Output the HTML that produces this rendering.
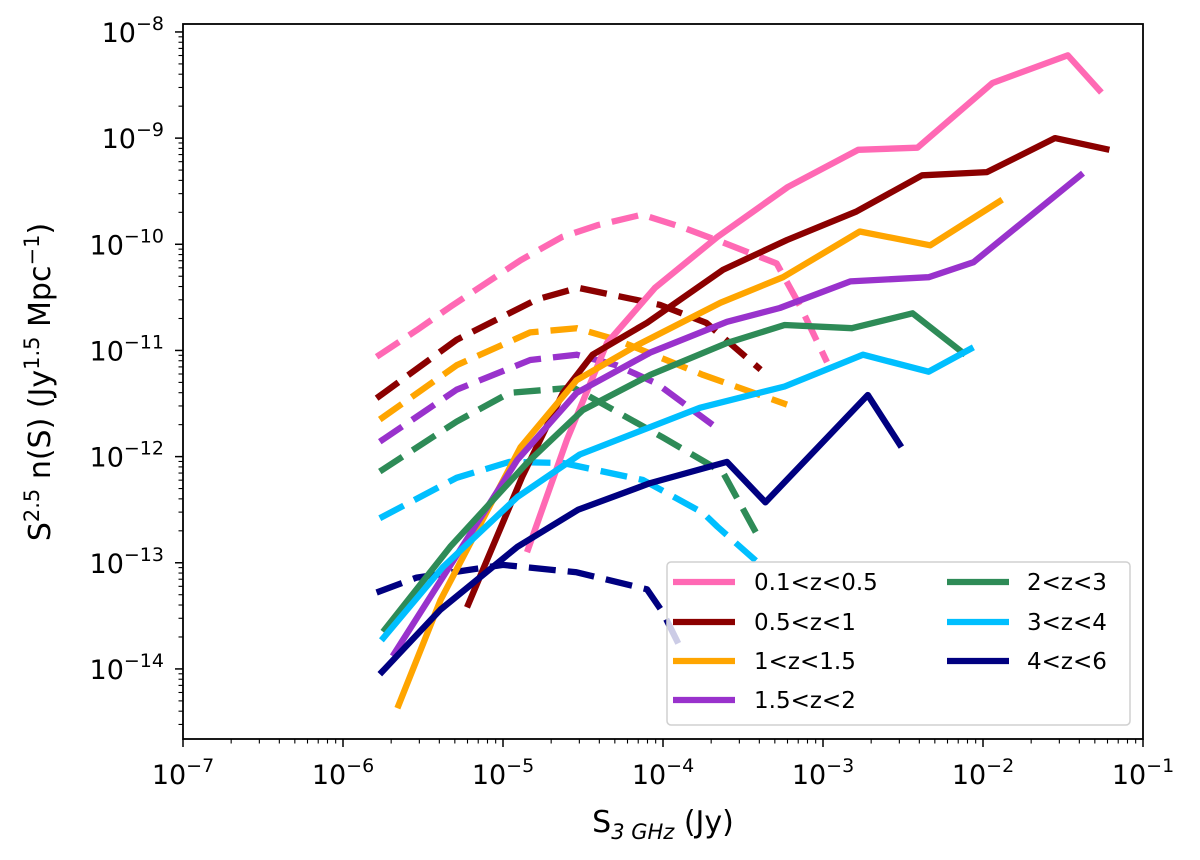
<!DOCTYPE html>
<html><head><meta charset="utf-8">
<style>
html,body{margin:0;padding:0;background:#fff;}
svg{display:block;font-family:"DejaVu Sans","Liberation Sans",sans-serif;}
</style></head>
<body>
<svg id="chart" width="1200" height="860" viewBox="0 0 1200 860"></svg>
<script>
// Data (log10 values)
const xTickExps = [-7,-6,-5,-4,-3,-2,-1];
const yTickExps = [-14,-13,-12,-11,-10,-9,-8];
const seriesNames = ["0.1<z<0.5","0.5<z<1","1<z<1.5","1.5<z<2","2<z<3","3<z<4","4<z<6"];
const seriesColors = ["#ff69b4","#8b0000","#ffa500","#9932cc","#2e8b57","#00bfff","#000080"];
// solid lines (log10 S, log10 S^2.5 n(S))
const pinkSolidX = [-4.85,-4.60,-4.35,-4.05,-3.66,-3.22,-2.78,-2.41,-1.94,-1.47,-1.26];
const pinkSolidY = [-12.90,-11.84,-10.93,-10.41,-9.93,-9.46,-9.11,-9.09,-8.48,-8.22,-8.57];
const redSolidX = [-5.225,-4.88,-4.625,-4.44,-4.10,-3.625,-3.225,-2.79,-2.38,-1.975,-1.55,-1.21];
const redSolidY = [-13.42,-12.19,-11.40,-11.04,-10.74,-10.24,-9.96,-9.69,-9.35,-9.32,-9.00,-9.11];
const orangeSolidX = [-5.66,-5.39,-4.89,-4.54,-4.16,-3.64,-3.25,-2.77,-2.33,-1.88];
const orangeSolidY = [-14.37,-13.35,-11.91,-11.28,-10.95,-10.55,-10.31,-9.88,-10.01,-9.58];
const purpleSolidX = [-5.69,-4.91,-4.54,-4.08,-3.60,-3.27,-2.83,-2.34,-2.06,-1.375];
const purpleSolidY = [-13.88,-12.03,-11.40,-11.02,-10.73,-10.60,-10.35,-10.31,-10.17,-9.33];
const greenSolidX = [-5.75,-5.33,-4.85,-4.50,-4.08,-3.60,-3.24,-2.82,-2.44,-2.11];
const greenSolidY = [-13.65,-12.85,-12.06,-11.56,-11.23,-10.93,-10.76,-10.79,-10.65,-11.04];
const cyanSolidX = [-5.76,-5.375,-4.91,-4.52,-3.77,-3.24,-2.75,-2.34,-2.06];
const cyanSolidY = [-13.73,-13.04,-12.38,-11.98,-11.54,-11.34,-11.04,-11.20,-10.97];
const navySolidX = [-5.77,-5.39,-4.91,-4.53,-4.08,-3.60,-3.36,-2.72,-2.51];
const navySolidY = [-14.05,-13.44,-12.85,-12.50,-12.25,-12.05,-12.43,-11.42,-11.91];
// dashed lines
const pinkDashX = [-5.79,-5.54,-5.33,-5.10,-4.89,-4.63,-4.41,-4.13,-3.88,-3.63,-3.29,-3.14,-2.975];
const pinkDashY = [-11.06,-10.81,-10.59,-10.36,-10.15,-9.93,-9.82,-9.72,-9.84,-9.98,-10.18,-10.59,-11.11];
const redDashX = [-5.79,-5.29,-4.79,-4.53,-4.02,-3.73,-3.39];
const redDashY = [-11.45,-10.90,-10.52,-10.41,-10.57,-10.74,-11.18];
const orangeDashX = [-5.77,-5.29,-4.83,-4.54,-4.29,-3.75,-3.225];
const orangeDashY = [-11.65,-11.14,-10.83,-10.79,-10.90,-11.23,-11.51];
const purpleDashX = [-5.77,-5.29,-4.83,-4.54,-4.29,-4.04,-3.69];
const purpleDashY = [-11.86,-11.37,-11.09,-11.04,-11.14,-11.31,-11.70];
const greenDashX = [-5.77,-5.29,-4.96,-4.56,-4.00,-3.625,-3.41];
const greenDashY = [-12.14,-11.67,-11.40,-11.35,-11.82,-12.15,-12.74];
const cyanDashX = [-5.77,-5.29,-4.96,-4.625,-4.125,-3.75,-3.66,-3.39];
const cyanDashY = [-12.58,-12.20,-12.05,-12.06,-12.22,-12.53,-12.66,-13.02];
const navyDashX = [-5.79,-5.54,-5.00,-4.54,-4.10,-4.00,-3.875];
const navyDashY = [-13.28,-13.14,-13.02,-13.09,-13.25,-13.47,-13.85];

const NS = "http://www.w3.org/2000/svg";
const svg = document.getElementById('chart');
const L = 183, R = 1143, T = 24, B = 739;
const xMin = -7, xMax = -1, yTop = -7.925, yBot = -14.66;
function xs(v){ return L + (v - xMin) / (xMax - xMin) * (R - L); }
function ys(v){ return T + (yTop - v) / (yTop - yBot) * (B - T); }
function mk(tag, attrs){ const e = document.createElementNS(NS, tag); for (const k in attrs) e.setAttribute(k, attrs[k]); svg.appendChild(e); return e; }

const solids = [[pinkSolidX,pinkSolidY],[redSolidX,redSolidY],[orangeSolidX,orangeSolidY],[purpleSolidX,purpleSolidY],[greenSolidX,greenSolidY],[cyanSolidX,cyanSolidY],[navySolidX,navySolidY]];
const dashes = [[pinkDashX,pinkDashY],[redDashX,redDashY],[orangeDashX,orangeDashY],[purpleDashX,purpleDashY],[greenDashX,greenDashY],[cyanDashX,cyanDashY],[navyDashX,navyDashY]];
function drawLine(d, color, dashed, name){
  const pts = d[0].map((x,i) => xs(x).toFixed(1) + ',' + ys(d[1][i]).toFixed(1)).join(' ');
  const p = mk('polyline', {points: pts, fill: 'none', stroke: color, 'stroke-width': 6.3, 'stroke-linejoin': 'round'});
  if (dashed) p.setAttribute('stroke-dasharray', '27 12');
  
  
}
for (let i = 0; i < 7; i++) drawLine(dashes[i], seriesColors[i], true, 'dashed-line-' + i);
for (let i = 0; i < 7; i++) drawLine(solids[i], seriesColors[i], false, 'solid-line-' + i);

const frame = mk('rect', {x: L, y: T, width: R - L, height: B - T, fill: 'none', stroke: '#000', 'stroke-width': 1.8});



for (let e = -7; e <= -1; e++) {
  const t = mk('line', {x1: xs(e), x2: xs(e), y1: B, y2: B + 8, stroke: '#000', 'stroke-width': 1.5});
  
  
  if (e < -1) for (let m = 2; m <= 9; m++) {
    const v = e + Math.log10(m);
    const mt = mk('line', {x1: xs(v), x2: xs(v), y1: B, y2: B + 4.5, stroke: '#000', 'stroke-width': 1.1});
    
    
  }
}
xTickExps.forEach(e => {
  const tx = mk('text', {x: xs(e), y: 784, 'text-anchor': 'middle', 'font-size': 27, fill: '#000'});
  tx.innerHTML = '10<tspan dy="-12" font-size="19">−' + (-e) + '</tspan>';
  
  
});
for (let e = -15; e <= -8; e++) {
  if (e >= -14) {
    const t = mk('line', {x1: L - 8, x2: L, y1: ys(e), y2: ys(e), stroke: '#000', 'stroke-width': 1.5});
    
    
  }
  for (let m = 2; m <= 9; m++) {
    const v = e + Math.log10(m);
    if (v < yBot || v > yTop) continue;
    const mt = mk('line', {x1: L - 4.5, x2: L, y1: ys(v), y2: ys(v), stroke: '#000', 'stroke-width': 1.1});
    
    
  }
}
yTickExps.forEach(e => {
  const tx = mk('text', {x: 164, y: ys(e) + 10, 'text-anchor': 'end', 'font-size': 27, fill: '#000'});
  tx.innerHTML = '10<tspan dy="-12" font-size="19">−' + (-e) + '</tspan>';
  
  
});

const xt = mk('text', {x: 663, y: 832, 'text-anchor': 'middle', 'font-size': 30, fill: '#000'});
xt.innerHTML = 'S<tspan dy="7" font-size="21" font-style="italic">3 GHz</tspan><tspan dy="-7"> (Jy)</tspan>';


const yt = mk('text', {x: 0, y: 0, 'text-anchor': 'middle', 'font-size': 30, fill: '#000', transform: 'translate(50,382) rotate(-90)'});
yt.innerHTML = 'S<tspan dy="-11" font-size="21">2.5</tspan><tspan dy="11"> n(S) (Jy</tspan><tspan dy="-11" font-size="21">1.5</tspan><tspan dy="11"> Mpc</tspan><tspan dy="-11" font-size="21">−1</tspan><tspan dy="11">)</tspan>';



const lg = mk('rect', {x: 667, y: 562, width: 463, height: 163, rx: 4, fill: 'rgba(255,255,255,0.8)', stroke: '#d0d0d0', 'stroke-width': 1.5});


const rowsY = [582, 622, 661, 700];
seriesNames.forEach((n, i) => {
  const col = i < 4 ? 0 : 1, row = i < 4 ? i : i - 4;
  const hx = col ? 947 : 673, tx = col ? 1027 : 754;
  const h = mk('line', {x1: hx, x2: hx + 62, y1: rowsY[row], y2: rowsY[row], stroke: seriesColors[i], 'stroke-width': 6.3});
  
  
  const t = mk('text', {x: tx, y: rowsY[row] + 8, 'font-size': 23, fill: '#000'});
  t.textContent = n;
  
  
});
</script>
</body></html>
